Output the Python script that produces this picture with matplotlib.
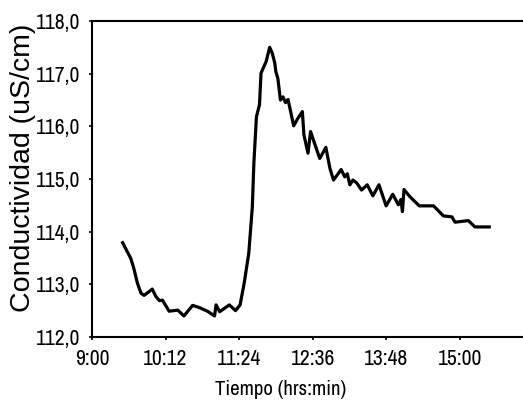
"""Conductividad vs tiempo, recreated as a single line chart."""

import matplotlib

matplotlib.use("Agg")
import matplotlib.pyplot as plt
from matplotlib.ticker import FuncFormatter, MultipleLocator

# Minutes after midnight.
TIME_MIN = [
    570, 578, 581, 584.5, 588, 591, 599, 602.5, 606, 609, 615.5, 624, 630,
    638.5, 645, 653, 660, 661.5, 665, 674.5, 680.5, 685, 689, 693.5, 697,
    698.5, 701, 704, 705.5, 710.5, 714, 716.5, 719, 720, 722, 724.5, 727,
    729.5, 732, 733.5, 737.5, 741.5, 746, 747.5, 751.5, 754, 763, 769, 773,
    776.5, 784, 787.5, 790, 792.5, 795.5, 799, 804, 809.5, 815, 821, 828,
    834.5, 840, 842.5, 844, 845.5, 851.5, 860.5, 874.5, 884, 892.5, 895.5,
    908.5, 915, 929,
]
CONDUCTIVITY = [
    113.79, 113.49, 113.30, 113.02, 112.83, 112.79, 112.91, 112.77, 112.69,
    112.70, 112.49, 112.51, 112.40, 112.60, 112.56, 112.49, 112.40, 112.61,
    112.48, 112.61, 112.50, 112.61, 113.02, 113.59, 114.47, 115.30, 116.18,
    116.41, 117.01, 117.23, 117.50, 117.39, 117.20, 117.04, 116.91, 116.50,
    116.56, 116.45, 116.51, 116.37, 116.01, 116.15, 116.28, 115.84, 115.49,
    115.90, 115.39, 115.60, 115.20, 114.98, 115.18, 115.04, 115.10, 114.89,
    114.98, 114.93, 114.79, 114.89, 114.68, 114.89, 114.49, 114.71, 114.51,
    114.61, 114.38, 114.80, 114.66, 114.49, 114.49, 114.30, 114.28, 114.18,
    114.21, 114.09, 114.09,
]
X_TICKS = [540, 612, 684, 756, 828, 900]

# The reference uses a squeezed Helvetica for ticks; a narrow grotesque is closest.
NARROW = ["Archivo Narrow", "Roboto Condensed", "Liberation Sans", "DejaVu Sans"]
REGULAR = ["Liberation Sans", "DejaVu Sans"]


def hhmm(value, _pos):
    value = int(round(value))
    return f"{value // 60}:{value % 60:02d}"


def comma_one(value, _pos):
    return f"{value:.1f}".replace(".", ",")


fig = plt.figure(figsize=(5.23, 4.05), dpi=100)
# Right spine sits just past the crop of the reference, so the axes run off the edge.
ax = fig.add_axes([92 / 523, 68 / 405, 433 / 523, 316 / 405])

ax.plot(TIME_MIN, CONDUCTIVITY, color="black", lw=2.3, solid_joinstyle="round")

ax.set_xlim(540, 964)
ax.set_ylim(112, 118)
ax.set_xticks(X_TICKS)
ax.xaxis.set_major_formatter(FuncFormatter(hhmm))
ax.yaxis.set_major_locator(MultipleLocator(1))
ax.yaxis.set_major_formatter(FuncFormatter(comma_one))

for side in ("top", "left", "bottom"):
    ax.spines[side].set_linewidth(1.5)
ax.spines["right"].set_visible(False)
ax.tick_params(direction="out", length=2.2, width=1.2, colors="black")
ax.tick_params(axis="y", pad=6)
ax.tick_params(axis="x", pad=6.5)

for label in ax.get_xticklabels() + ax.get_yticklabels():
    label.set_family(NARROW)
    label.set_fontsize(15.5)

ax.set_xlabel("Tiempo (hrs:min)", family=NARROW, fontsize=15)
ax.xaxis.set_label_coords(0.435, -0.165)
ax.xaxis.label.set_verticalalignment("center")

ax.set_ylabel("Conductividad (uS/cm)", family=REGULAR, fontsize=20.5)
ax.yaxis.set_label_coords(-0.16, 0.535)
ax.yaxis.label.set_verticalalignment("center")

fig.savefig("out.png", dpi=100)
